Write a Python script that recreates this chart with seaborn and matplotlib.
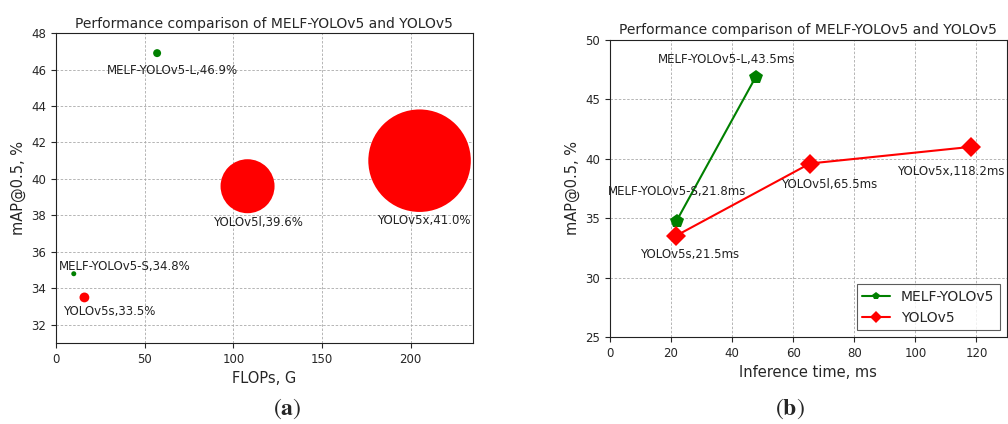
import matplotlib
matplotlib.use('Agg')

import pandas as pd
import matplotlib.pyplot as plt
import seaborn as sns

# (a) FLOPs vs mAP
flops_names = ["MELF-YOLOv5-L", "MELF-YOLOv5-S", "YOLOv5s", "YOLOv5l", "YOLOv5x"]
flops_family = ["MELF-YOLOv5", "MELF-YOLOv5", "YOLOv5", "YOLOv5", "YOLOv5"]
flops_g = [57, 10, 16, 108, 205]
flops_map = [46.9, 34.8, 33.5, 39.6, 41.0]

# (b) inference time vs mAP
melf_names = ["MELF-YOLOv5-S", "MELF-YOLOv5-L"]
melf_time = [21.9, 47.8]
melf_time_label = [21.8, 43.5]
melf_map = [34.8, 46.9]

yolo_names = ["YOLOv5s", "YOLOv5l", "YOLOv5x"]
yolo_time = [21.5, 65.5, 118.2]
yolo_map = [33.5, 39.6, 41.0]

sns.set_style("ticks")
plt.rcParams['font.family'] = ['DejaVu Sans']
plt.rcParams['mathtext.fontset'] = 'stix'

colors = {"MELF-YOLOv5": "green", "YOLOv5": "red"}

fig = plt.figure(figsize=(10.08, 4.24), dpi=100)
ax1 = fig.add_axes([0.0556, 0.191, 0.4134, 0.731])
ax2 = fig.add_axes([0.605, 0.205, 0.394, 0.701])

# ---- panel (a)
df_a = pd.DataFrame({"name": flops_names, "family": flops_family,
                     "FLOPs": flops_g, "mAP": flops_map})
# bubble area: big red ones grow with FLOPs, the rest are small dots
dot_sizes = {"MELF-YOLOv5-L": 33, "MELF-YOLOv5-S": 13, "YOLOv5s": 50}
areas = [dot_sizes.get(n, (f * 0.36) ** 2) for n, f in zip(flops_names, flops_g)]
sns.scatterplot(data=df_a, x="FLOPs", y="mAP", hue="family", palette=colors,
                s=areas, linewidth=0, legend=False, ax=ax1, zorder=3, alpha=1)

offs_a = [(15, -17), (51, 7), (25, -14), (10, -36), (4, -60)]
for (name, x, y), off in zip(zip(flops_names, flops_g, flops_map), offs_a):
    ax1.annotate(f"{name},{y:.1f}%", (x, y), xytext=off, textcoords='offset pixels',
                 ha='center', va='center', fontsize=8.5, color='#222222', zorder=4)

ax1.set_xlim(0, 235)
ax1.set_ylim(31, 48)
ax1.set_yticks(range(32, 49, 2))
ax1.set_xticks([0, 50, 100, 150, 200])
ax1.set_xlabel("FLOPs, G", fontsize=10.5)
ax1.set_ylabel("mAP@0.5, %", fontsize=10.5)
ax1.set_title("Performance comparison of MELF-YOLOv5 and YOLOv5", fontsize=10, pad=4)

# ---- panel (b)
df_b = pd.DataFrame({
    "time": melf_time + yolo_time,
    "mAP": melf_map + yolo_map,
    "model": ["MELF-YOLOv5"] * len(melf_time) + ["YOLOv5"] * len(yolo_time),
})
sns.lineplot(data=df_b, x="time", y="mAP", hue="model", style="model",
             palette=colors, markers={"MELF-YOLOv5": "p", "YOLOv5": "D"},
             dashes=False, markersize=10, markeredgewidth=0, linewidth=1.5,
             ax=ax2, zorder=3)

offs_melf = [(0, 29), (-29, 17)]
for name, x, lab, y, off in zip(melf_names, melf_time, melf_time_label, melf_map, offs_melf):
    ax2.annotate(f"{name},{lab}ms", (x, y), xytext=off, textcoords='offset pixels',
                 ha='center', va='center', fontsize=8.5, color='#222222', zorder=4)
offs_yolo = [(14, -18), (19, -21), (-20, -25)]
for name, x, y, off in zip(yolo_names, yolo_time, yolo_map, offs_yolo):
    ax2.annotate(f"{name},{x}ms", (x, y), xytext=off, textcoords='offset pixels',
                 ha='center', va='center', fontsize=8.5, color='#222222', zorder=4)

ax2.set_xlim(0, 130)
ax2.set_ylim(25, 50)
ax2.set_xticks(range(0, 121, 20))
ax2.set_yticks(range(25, 51, 5))
ax2.set_xlabel("Inference time, ms", fontsize=10.5)
ax2.set_ylabel("mAP@0.5, %", fontsize=10.5)
ax2.set_title("Performance comparison of MELF-YOLOv5 and YOLOv5", fontsize=10, pad=4)
leg = ax2.legend(loc='lower right', fontsize=10, markerscale=0.6,
                 frameon=True, fancybox=False, edgecolor='#333333')
leg.get_frame().set_linewidth(0.8)

for ax in (ax1, ax2):
    ax.grid(True, linestyle=(0, (3, 2)), linewidth=0.6, color='#aaaaaa')
    ax.set_axisbelow(True)
    ax.tick_params(labelsize=8.5)
    for sp in ax.spines.values():
        sp.set_visible(True)
        sp.set_color('#222222')

fig.text(0.285, 0.037, r'$(\mathbf{a})$', ha='center', va='center', fontsize=17)
fig.text(0.784, 0.037, r'$(\mathbf{b})$', ha='center', va='center', fontsize=17)

fig.savefig("out.png", dpi=100)
